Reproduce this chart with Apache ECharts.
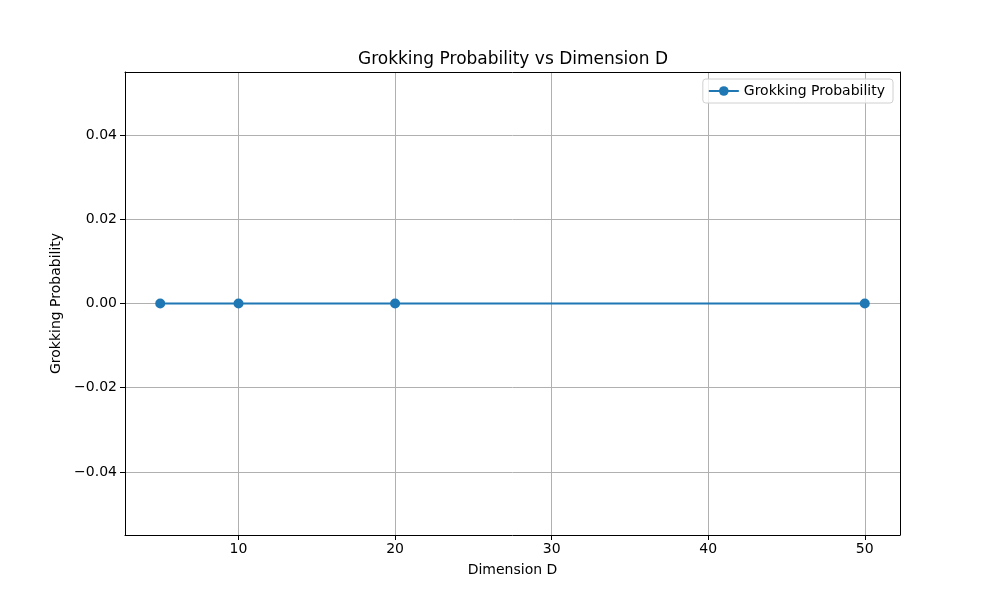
<!DOCTYPE html>
<html lang="en">
  <head>
    <meta charset="UTF-8" />
    <title>Grokking Probability vs Dimension D</title>
    <script src="https://cdn.jsdelivr.net/npm/echarts@6/dist/echarts.min.js"></script>
    <style>
      body { margin: 0; background: #fff; }
    </style>
  </head>

  <body>
    <div id="main" style="width: 1000px; height: 600px"></div>

    <script type="text/javascript">
      // data
      const dimensions = [5, 10, 20, 50];
      const probabilities = [0, 0, 0, 0];
      const xTicks = [10, 20, 30, 40, 50];
      const yTicks = [-0.04, -0.02, 0, 0.02, 0.04];

      const font = "DejaVu Sans";
      const minus = (s) => s.replace("-", "\u2212");

      let options = {
        animation: false,
        textStyle: { fontFamily: font },
        title: {
          text: "Grokking Probability vs Dimension D",
          left: 508,
          textAlign: "center",
          top: 46,
          textStyle: { fontFamily: font, fontSize: 17, fontWeight: "normal", color: "#000" },
        },
        legend: {
          right: 107,
          top: 79,
          padding: [5, 8, 5, 5],
          itemWidth: 30,
          itemHeight: 12,
          itemGap: 10,
          backgroundColor: "rgba(255,255,255,0.8)",
          borderColor: "#d0d0d0",
          borderWidth: 1,
          borderRadius: 3,
          textStyle: { fontFamily: font, fontSize: 14, color: "#000" },
          data: ["Grokking Probability"],
        },
        grid: { left: 125, right: 100, top: 72, bottom: 65 },
        xAxis: [
          {
            type: "value",
            min: 2.75,
            max: 52.25,
            name: "Dimension D",
            nameLocation: "middle",
            nameGap: 28,
            nameTextStyle: { fontFamily: font, fontSize: 14, color: "#000" },
            axisLine: { onZero: false, lineStyle: { color: "#000", width: 1 } },
            axisTick: { show: true, customValues: xTicks, length: 5, lineStyle: { color: "#000" } },
            axisLabel: {
              customValues: xTicks,
              fontFamily: font,
              fontSize: 14,
              color: "#000",
              margin: 7,
            },
            splitLine: { show: true, lineStyle: { color: "#b0b0b0", width: 1 } },
          },
          {
            // top spine
            type: "value",
            position: "top",
            min: 2.75,
            max: 52.25,
            axisLine: { show: true, onZero: false, lineStyle: { color: "#000", width: 1 } },
            axisTick: { show: false },
            axisLabel: { show: false },
            splitLine: { show: false },
          },
        ],
        yAxis: [
          {
            type: "value",
            min: -0.055,
            max: 0.055,
            name: "Grokking Probability",
            nameLocation: "middle",
            nameGap: 54,
            nameTextStyle: { fontFamily: font, fontSize: 14, color: "#000" },
            axisLine: { show: true, onZero: false, lineStyle: { color: "#000", width: 1 } },
            axisTick: { show: true, customValues: yTicks, length: 5, lineStyle: { color: "#000" } },
            axisLabel: {
              customValues: yTicks,
              fontFamily: font,
              fontSize: 14,
              color: "#000",
              margin: 8,
              formatter: (v) => minus(v.toFixed(2)),
            },
            splitLine: { show: true, lineStyle: { color: "#b0b0b0", width: 1 } },
          },
          {
            // right spine
            type: "value",
            position: "right",
            min: -0.055,
            max: 0.055,
            axisLine: { show: true, onZero: false, lineStyle: { color: "#000", width: 1 } },
            axisTick: { show: false },
            axisLabel: { show: false },
            splitLine: { show: false },
          },
        ],
        series: [
          {
            name: "Grokking Probability",
            type: "line",
            data: dimensions.map((d, i) => [d, probabilities[i]]),
            symbol: "circle",
            symbolSize: 10,
            itemStyle: { color: "#1f77b4" },
            lineStyle: { color: "#1f77b4", width: 2 },
          },
        ],
      };

      let myChart = echarts.init(document.getElementById("main"));
      myChart.setOption(options);
    </script>
  </body>
</html>
